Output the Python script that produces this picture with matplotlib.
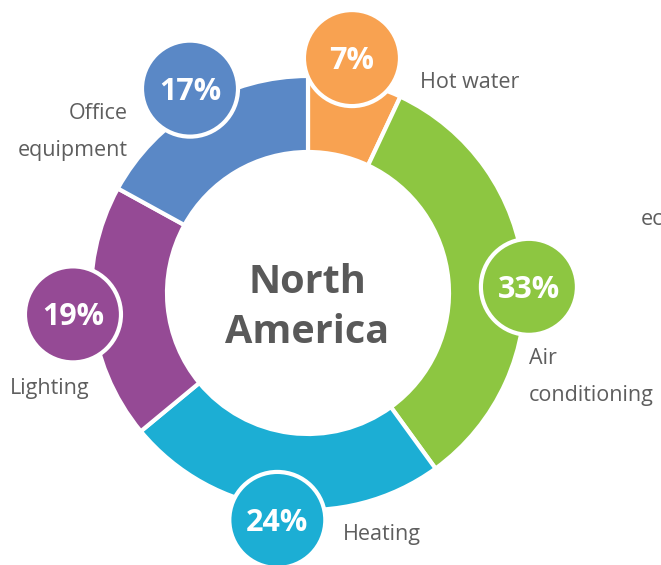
import numpy as np
import matplotlib
matplotlib.use("Agg")
import matplotlib.pyplot as plt
from matplotlib.patches import Circle

plt.rcParams['font.family'] = ['Open Sans', 'DejaVu Sans']

# data
categories = ['Hot water', 'Air conditioning', 'Heating', 'Lighting', 'Office equipment']
shares = [7, 33, 24, 19, 17]
pct_labels = ['7%', '33%', '24%', '19%', '17%']
colors = ['#F8A251', '#8DC641', '#1CAED4', '#954A95', '#5A88C6']
title = 'North\nAmerica'

# layout (pixels, y measured from the top of the picture)
W, H = 661, 565
cx, cy = 308, 293
r_out, r_in = 217, 141
bubble_r = 48
bubble_dist = [239, 221, 229, 236, 236]
bubble_dang = [-2.0, 3.8, 0.5, 0.2, 0.6]
# (x, baseline of last line, alignment)
label_pos = [(420, 88, 'left'), (529, 401, 'left'), (343, 540, 'left'),
             (10, 394, 'left'), (128, 156, 'right')]
label_text = ['Hot water', 'Air\nconditioning', 'Heating', 'Lighting', 'Office\nequipment']
grey = '#5E5E5E'

fig = plt.figure(figsize=(W / 100, H / 100), dpi=100)
ax = fig.add_axes([0, 0, 1, 1])

ax.pie(shares, colors=colors, startangle=90, counterclock=False,
       radius=r_out, center=(cx, H - cy),
       wedgeprops=dict(width=r_out - r_in, edgecolor='white', linewidth=3))

ax.set_xlim(0, W)
ax.set_ylim(0, H)
ax.set_aspect('equal')
ax.axis('off')

# percentage bubbles on the ring
pct_size = 22
cap = 0.72 * pct_size * 100 / 72
total = sum(shares)
start = 0.0
for i, s in enumerate(shares):
    mid = (start + s / 2) / total * 360 + bubble_dang[i]
    start += s
    a = np.deg2rad(mid)
    bx = cx + bubble_dist[i] * np.sin(a)
    by = (H - cy) + bubble_dist[i] * np.cos(a)
    ax.add_patch(Circle((bx, by), bubble_r, facecolor=colors[i],
                        edgecolor='white', linewidth=3, zorder=5))
    ax.text(bx, by - cap / 2, pct_labels[i], color='white', fontsize=pct_size,
            fontweight='bold', ha='center', va='baseline', zorder=6)

# category labels
for (x, y, ha), txt in zip(label_pos, label_text):
    ax.text(x, H - y, txt, color=grey, fontsize=15.5, ha=ha, va='baseline',
            linespacing=2.0)

# partial label of the neighbouring chart (cut by the picture edge, as in the original)
ax.text(641, H - 225, 'ec', color=grey, fontsize=15.5, ha='left', va='baseline')

ax.text(cx - 1, H - 343, title, color='#595959', fontsize=28.5, fontweight='bold',
        ha='center', va='baseline', linespacing=1.38)

fig.savefig('out.png', dpi=100)
